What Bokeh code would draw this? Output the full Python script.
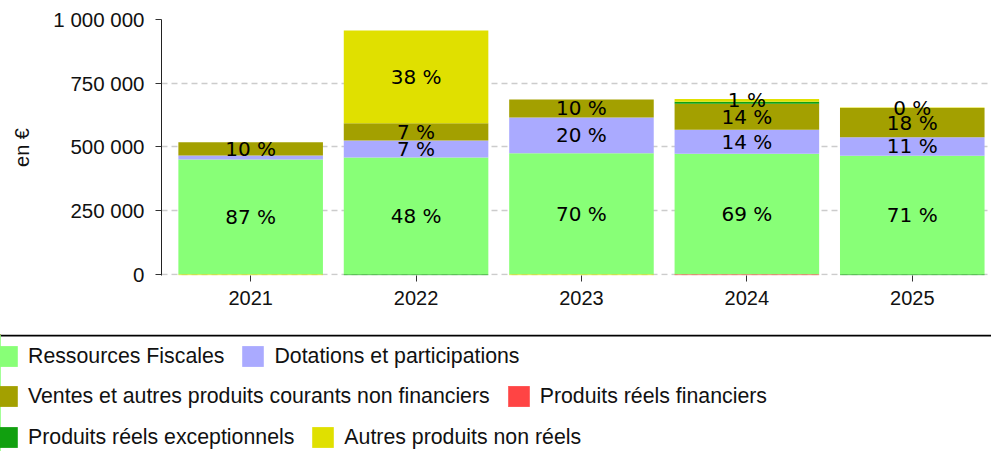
import numpy as np
from bokeh.plotting import figure
from bokeh.models import ColumnDataSource, Range1d, FixedTicker, Legend, LegendItem, Span
from bokeh.layouts import column
from bokeh.embed import file_html
from bokeh.resources import INLINE
from bokeh.core.properties import value

# ---------------- data ----------------
years = ["2021", "2022", "2023", "2024", "2025"]
series_names = [
    "Ressources Fiscales",
    "Dotations et participations",
    "Ventes et autres produits courants non financiers",
    "Produits réels financiers",
    "Produits réels exceptionnels",
    "Autres produits non réels",
]
ressources_fiscales = [451000, 458800, 475000, 473000, 465500]
dotations = [15700, 66700, 141000, 95000, 73000]
ventes = [52200, 67800, 70000, 102000, 114000]
produits_financiers = [0, 0, 0, -3500, 0]
produits_exceptionnels = [0, -3500, 0, 7800, -3500]
autres_non_reels = [-3500, 363600, -3500, 10600, 2500]

labels_ressources = ["87 %", "48 %", "70 %", "69 %", "71 %"]
labels_dotations = ["", "7 %", "20 %", "14 %", "11 %"]
labels_ventes = ["10 %", "7 %", "10 %", "14 %", "18 %"]
labels_financiers = ["", "", "", "", ""]
labels_exceptionnels = ["", "", "", "", ""]
labels_autres = ["", "38 %", "", "1 %", "0 %"]

y_ticks = [0, 250000, 500000, 750000, 1000000]
y_tick_labels = ["0", "250 000", "500 000", "750 000", "1 000 000"]

colors = ["#88ff77", "#aaaaff", "#a3a000", "#ff4444", "#11a00f", "#e0e000"]

# ---------------- stacking (positives up, negatives down) ----------------
vals = np.array([ressources_fiscales, dotations, ventes, produits_financiers,
                 produits_exceptionnels, autres_non_reels], dtype=float)
labels = [labels_ressources, labels_dotations, labels_ventes, labels_financiers,
          labels_exceptionnels, labels_autres]
xs = list(range(len(years)))
data = {"x": xs}
pos_base = np.zeros(len(years))
neg_base = np.zeros(len(years))
for i, v in enumerate(vals):
    bottom = np.where(v >= 0, pos_base, neg_base)
    top = bottom + v
    pos_base = np.where(v >= 0, top, pos_base)
    neg_base = np.where(v < 0, top, neg_base)
    data[f"b{i}"] = bottom
    data[f"t{i}"] = top
    data[f"m{i}"] = (bottom + top) / 2
    data[f"l{i}"] = labels[i]
src = ColumnDataSource(data)

FONT = "Liberation Sans"
W = 991
H1, H2 = 334, 117
FRAME_LEFT, FRAME_TOP, FRAME_BOTTOM = 161, 19, 275

# ---------------- chart ----------------
p = figure(width=W, height=H1,
           x_range=Range1d(-0.539, 4.479), y_range=Range1d(-4000, 1000000),
           output_backend="svg", toolbar_location=None,
           min_border_left=FRAME_LEFT, min_border_right=0, min_border_top=FRAME_TOP,
           min_border_bottom=H1 - FRAME_BOTTOM)
p.frame_align = False
p.outline_line_color = None
p.background_fill_color = "white"

for i in range(len(series_names)):
    p.vbar(x="x", bottom=f"b{i}", top=f"t{i}", width=0.874, source=src,
           fill_color=colors[i], line_color=None)
for i in range(len(series_names)):
    p.text(x="x", y=f"m{i}", text=f"l{i}", source=src,
           text_align="center", text_baseline="middle",
           text_font=value("DejaVu Sans"), text_font_size="20px", text_color="black")

p.xaxis.ticker = FixedTicker(ticks=xs)
p.xaxis.major_label_overrides = {i: y for i, y in enumerate(years)}
p.xaxis.axis_line_color = None
p.xaxis.minor_tick_line_color = None
p.xaxis.major_tick_out = 6
p.xaxis.major_tick_in = 0
p.xaxis.major_tick_line_color = "#333333"
p.xaxis.major_label_standoff = 9
p.xaxis.major_label_text_font = FONT
p.xaxis.major_label_text_font_size = "20px"
p.xaxis.major_label_text_color = "#111111"

p.yaxis.ticker = FixedTicker(ticks=y_ticks)
p.yaxis.major_label_overrides = {t: l for t, l in zip(y_ticks, y_tick_labels)}
p.yaxis.axis_line_color = "#222222"
p.yaxis.minor_tick_line_color = None
p.yaxis.major_tick_out = 6
p.yaxis.major_tick_in = 0
p.yaxis.major_tick_line_color = "#333333"
p.yaxis.major_label_standoff = 11
p.yaxis.major_label_text_font = FONT
p.yaxis.major_label_text_font_size = "20.5px"
p.yaxis.major_label_text_color = "#111111"
p.yaxis.axis_label = "en €"
p.yaxis.axis_label_text_font = FONT
p.yaxis.axis_label_text_font_size = "20px"
p.yaxis.axis_label_text_font_style = "normal"
p.yaxis.axis_label_text_color = "#111111"
p.yaxis.axis_label_standoff = 17

p.xgrid.visible = False
p.ygrid.ticker = FixedTicker(ticks=y_ticks)
p.ygrid.grid_line_color = "#cccccc"
p.ygrid.grid_line_dash = "6 4"
p.ygrid.grid_line_width = 1.5

# ---------------- legend panel ----------------
leg = figure(width=W, height=H2, x_range=Range1d(100, 101), y_range=Range1d(0, H2),
             output_backend="svg", toolbar_location=None, min_border=0,
             x_axis_location=None, y_axis_location=None)
leg.frame_align = False
leg.outline_line_color = None
leg.grid.visible = False
rs = []
for i in range(len(series_names)):
    r = leg.vbar(x="x", bottom=f"b{i}", top=f"t{i}", width=0.874, source=src,
                 fill_color=colors[i], line_color=None)
    rs.append(r)
leg.add_layout(Span(location=H2 - 1, dimension="width", line_color="black", line_width=2))

GW, GH = 27, 26   # legend swatch drawn with 10% inset -> ~22 x 21 px
rows = [[0, 1], [2, 3], [4, 5]]
swatch_tops = [12, 52, 93]
for row, st in zip(rows, swatch_tops):
    yy = H2 - (st - 0.1 * GH + GH)
    lg = Legend(items=[LegendItem(label=value(series_names[i]), renderers=[rs[i]]) for i in row],
                location=(-7, yy), orientation="horizontal",
                glyph_width=GW, glyph_height=GH, label_standoff=8, spacing=15,
                padding=0, margin=0, border_line_color=None, background_fill_alpha=0,
                label_text_font=FONT, label_text_font_size="21.3px", label_text_color="#111111")
    leg.add_layout(lg, "center")

layout = column(p, leg, spacing=0)
open("out.html", "w").write(file_html(layout, INLINE))
